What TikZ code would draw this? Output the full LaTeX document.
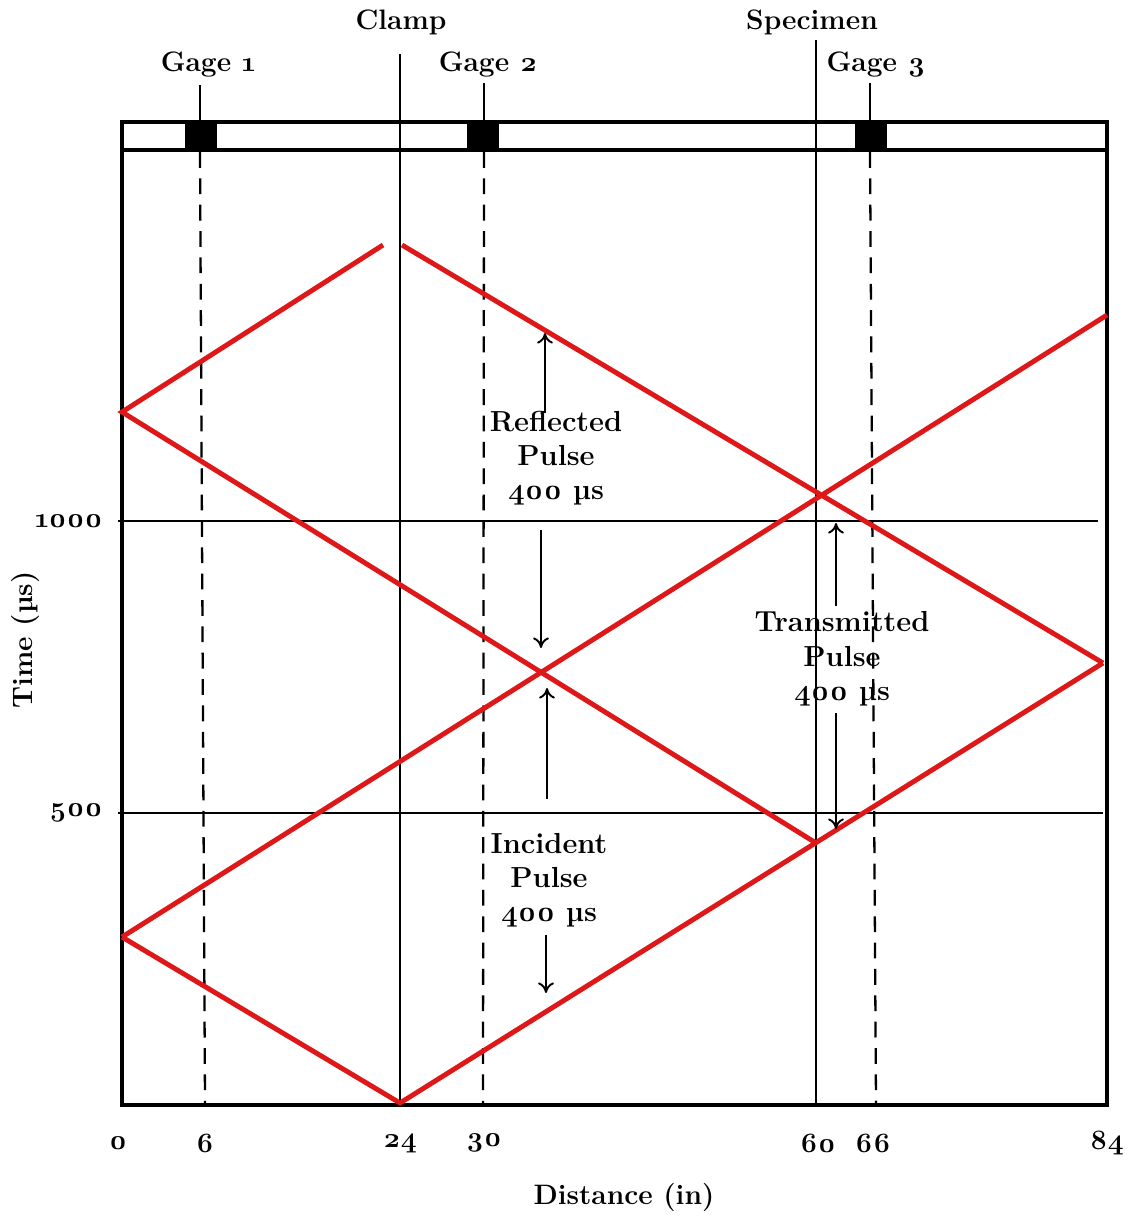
\documentclass[tikz,border=0pt]{standalone}
\usepackage{fontspec}
\setmainfont{Latin Modern Roman}[Numbers=OldStyle]
\usetikzlibrary{arrows.meta}
\begin{document}
\begin{tikzpicture}[x=0.02cm,y=-0.02cm,
  frame/.style={line width=2.2pt},
  thin/.style={line width=1.1pt},
  pulse/.style={line width=2.8pt, draw=pulsered},
  gagedash/.style={line width=1.3pt, dash pattern=on 9pt off 6pt},
  lbl/.style={font=\fontsize{16}{19.5}\selectfont\bfseries, inner sep=0pt},
  multi/.style={lbl, font=\fontsize{16.5}{19.5}\selectfont\bfseries, align=center},
  arr/.style={line width=1.1pt, -{To[length=6pt,width=9pt]}}]
\definecolor{pulsered}{RGB}{222,24,24}
\useasboundingbox (0,0) rectangle (1135,1218);
% coordinates
\coordinate (bl) at (122,1105);
\coordinate (br) at (1107,1105);
\coordinate (tl) at (122,150);
\coordinate (tr) at (1107,150);
\coordinate (bartl) at (122,122);
\coordinate (bartr) at (1107,122);
% top bar and frame
\draw[frame] (tl) -- (bartl) -- (bartr) -- (tr);
\draw[frame] (tr) -- (br) -- (bl) -- (tl) -- cycle;
% gage blocks
\fill (185,122) rectangle (217,150);
\fill (467,122) rectangle (499,150);
\fill (855,122) rectangle (887,150);
% gage ticks
\coordinate (g1t) at (200,85); \coordinate (g1b) at (200,122);
\coordinate (g2t) at (484,83); \coordinate (g2b) at (484,122);
\coordinate (g3t) at (870,83); \coordinate (g3b) at (870,122);
\draw[line width=1.6pt] (g1t) -- (g1b);
\draw[line width=1.6pt] (g2t) -- (g2b);
\draw[line width=1.6pt] (g3t) -- (g3b);
% dashed gage lines
\coordinate (d1t) at (200,152); \coordinate (d1b) at (205,1103);
\coordinate (d2t) at (484,152); \coordinate (d2b) at (483,1103);
\coordinate (d3t) at (870,152); \coordinate (d3b) at (876,1103);
\draw[gagedash] (d1t) -- (d1b);
\draw[gagedash] (d2t) -- (d2b);
\draw[gagedash] (d3t) -- (d3b);
% clamp & specimen lines
\coordinate (ct) at (400,54); \coordinate (cb) at (400,1105);
\coordinate (st) at (816,40); \coordinate (sb) at (816,1105);
\draw[thin] (ct) -- (cb);
\draw[thin] (st) -- (sb);
% horizontal grid lines
\coordinate (h1a) at (118,521); \coordinate (h1b) at (1098,521);
\coordinate (h2a) at (118,813); \coordinate (h2b) at (1103,813);
\draw[thin] (h1a) -- (h1b);
\draw[thin] (h2a) -- (h2b);
% pulses
\coordinate (p0) at (122,937);
\coordinate (p1) at (400,1103);
\coordinate (p2) at (1103,663);
\coordinate (p3) at (1107,315);
\coordinate (p4) at (122,412);
\coordinate (p5) at (816,843);
\coordinate (p6) at (383,245);
\coordinate (p7) at (402,245);
\draw[pulse, line join=miter] (p0) -- (p1) -- (p2);
\draw[pulse] (p0) -- (p3);
\draw[pulse, line join=miter] (p6) -- (p4) -- (p5);
\draw[pulse] (p7) -- (p2);
% arrows
\coordinate (ra1) at (545,413); \coordinate (ra2) at (545,333);
\coordinate (ra3) at (541,530); \coordinate (ra4) at (541,648);
\coordinate (ia1) at (547,799); \coordinate (ia2) at (547,688);
\coordinate (ia3) at (546,935); \coordinate (ia4) at (546,993);
\coordinate (ta1) at (836,606); \coordinate (ta2) at (836,523);
\coordinate (ta3) at (836,713); \coordinate (ta4) at (836,829);
\draw[arr] (ra1) -- (ra2);
\draw[arr] (ra3) -- (ra4);
\draw[arr] (ia1) -- (ia2);
\draw[arr] (ia3) -- (ia4);
\draw[arr] (ta1) -- (ta2);
\draw[arr] (ta3) -- (ta4);
% labels
\node[lbl] (clamp) at (401,22) {Clamp};
\node[lbl] (spec) at (812,22) {Specimen};
\node[lbl] (gage1) at (208,65) {Gage 1};
\node[lbl] (gage2) at (488,65) {Gage 2};
\node[lbl] (gage3) at (876,65) {Gage 3};
\node[multi] (refl) at (556,458) {Reflected\\Pulse\\400 µs};
\node[multi] (inc) at (549,880) {Incident\\Pulse\\400 µs};
\node[multi] (trans) at (842,659) {Transmitted\\Pulse\\400 µs};
\node[lbl, anchor=east] (y1000) at (103,521) {1000};
\node[lbl, anchor=east] (y500) at (103,813) {500};
\node[lbl, rotate=90] (ylab) at (25,640) {Time (µs)};
\node[lbl] (x0) at (118,1143) {0};
\node[lbl] (x6) at (205,1143) {6};
\node[lbl] (x24) at (400,1143) {24};
\node[lbl] (x30) at (484,1143) {30};
\node[lbl] (x60) at (818,1143) {60};
\node[lbl] (x66) at (873,1143) {66};
\node[lbl] (x84) at (1107,1143) {84};
\node[lbl] (xlab) at (624,1197) {Distance (in)};
\end{tikzpicture}
\end{document}
